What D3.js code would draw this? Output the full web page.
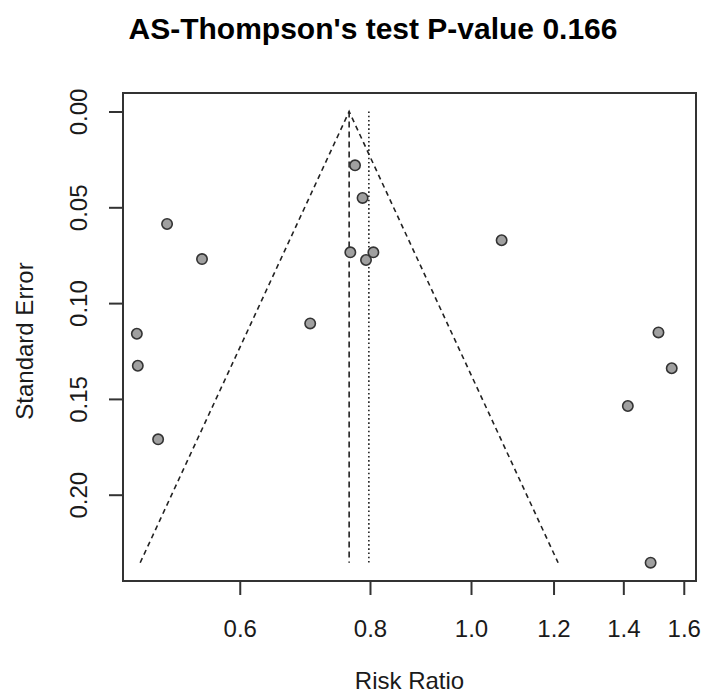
<!DOCTYPE html>
<html>
<head>
<meta charset="utf-8">
<script src="https://cdn.jsdelivr.net/npm/d3@7"></script>
<style>
  html, body { margin: 0; padding: 0; background: #ffffff; }
  svg { display: block; }
</style>
</head>
<body>
<svg id="chart" width="704" height="699"></svg>
<script>
// ---- data ----
const riskRatio = [0.774, 0.787, 0.511, 0.552, 1.070, 0.766, 0.806, 0.793,
                   0.701, 0.478, 0.479, 0.501, 1.513, 1.558, 1.414, 1.487];
const stdError  = [0.0281, 0.0451, 0.0587, 0.0770, 0.0672, 0.0735, 0.0735, 0.0775,
                   0.1106, 0.1160, 0.1327, 0.1711, 0.1153, 0.1340, 0.1537, 0.2355];
const pooledRR = 0.764;      // dashed vertical line / funnel apex
const observedRR = 0.798;    // dotted vertical line
const xTickValues = [0.6, 0.8, 1.0, 1.2, 1.4, 1.6];
const xTickLabels = ["0.6", "0.8", "1.0", "1.2", "1.4", "1.6"];
const yTickValues = [0, 0.05, 0.10, 0.15, 0.20];
const yTickLabels = ["0.00", "0.05", "0.10", "0.15", "0.20"];
const titleText = "AS-Thompson's test P-value 0.166";
const xLabel = "Risk Ratio";
const yLabel = "Standard Error";

// ---- layout ----
const box = { left: 123, right: 696, top: 93, bottom: 581 };
const svg = d3.select("#chart");
const font = "'Liberation Sans', Arial, Helvetica, sans-serif";
const textColor = "#1a1a1a";

const seMax = d3.max(stdError);
const x = d3.scaleLog().domain([0.4636, 1.6438]).range([box.left, box.right]);
const y = d3.scaleLinear().domain([-0.00966, 0.24504]).range([box.top, box.bottom]);

// funnel
const z = 1.96;
const funnel = [
  [Math.exp(Math.log(pooledRR) - z * seMax), seMax],
  [pooledRR, 0],
  [Math.exp(Math.log(pooledRR) + z * seMax), seMax]
];
const line = d3.line().x(d => x(d[0])).y(d => y(d[1]));
svg.append("path").attr("d", line(funnel))
  .attr("fill", "none").attr("stroke", "#222").attr("stroke-width", 1.6)
  .attr("stroke-dasharray", "5,4");

svg.append("path").attr("d", line([[pooledRR, 0], [pooledRR, seMax]]))
  .attr("fill", "none").attr("stroke", "#222").attr("stroke-width", 1.6)
  .attr("stroke-dasharray", "6,4");

svg.append("path").attr("d", line([[observedRR, 0], [observedRR, seMax]]))
  .attr("fill", "none").attr("stroke", "#222").attr("stroke-width", 1.6)
  .attr("stroke-dasharray", "1.6,2.6");

// points
const pts = riskRatio.map((r, i) => ({ r: r, s: stdError[i] }));
svg.append("g").selectAll("circle").data(pts).enter().append("circle")
  .attr("cx", d => x(d.r)).attr("cy", d => y(d.s)).attr("r", 5.2)
  .attr("fill", "#a0a0a0").attr("stroke", "#333").attr("stroke-width", 1.6);

// box
svg.append("rect")
  .attr("x", box.left).attr("y", box.top)
  .attr("width", box.right - box.left).attr("height", box.bottom - box.top)
  .attr("fill", "none").attr("stroke", "#333").attr("stroke-width", 2);

// x axis
const xAxis = d3.axisBottom(x).tickValues(xTickValues)
  .tickFormat((d, i) => xTickLabels[i]).tickSize(14);
const gx = svg.append("g").attr("transform", `translate(0,${box.bottom})`).call(xAxis);
gx.select(".domain").remove();
gx.selectAll(".tick line").attr("stroke", "#333").attr("stroke-width", 2);
gx.selectAll(".tick text").attr("font-family", font).attr("font-size", 24)
  .attr("fill", textColor).attr("y", 56).attr("dy", null);

// y axis
const yAxis = d3.axisLeft(y).tickValues(yTickValues)
  .tickFormat((d, i) => yTickLabels[i]).tickSize(14);
const gy = svg.append("g").attr("transform", `translate(${box.left},0)`).call(yAxis);
gy.select(".domain").remove();
gy.selectAll(".tick line").attr("stroke", "#333").attr("stroke-width", 2);
gy.selectAll(".tick text")
  .attr("font-family", font).attr("font-size", 24).attr("fill", textColor)
  .attr("x", null).attr("dy", null)
  .attr("text-anchor", "middle")
  .attr("transform", "translate(-36,0) rotate(-90)");

// title and labels
svg.append("text").attr("x", 373).attr("y", 39)
  .attr("text-anchor", "middle").attr("font-family", font)
  .attr("font-weight", "bold").attr("font-size", 30).attr("fill", "#000")
  .text(titleText);

svg.append("text").attr("x", (box.left + box.right) / 2).attr("y", 689)
  .attr("text-anchor", "middle").attr("font-family", font)
  .attr("font-size", 24).attr("fill", textColor).text(xLabel);

svg.append("text")
  .attr("transform", `translate(33,${(box.top + box.bottom) / 2 + 4}) rotate(-90)`)
  .attr("text-anchor", "middle").attr("font-family", font)
  .attr("font-size", 24).attr("fill", textColor).text(yLabel);
</script>
</body>
</html>
